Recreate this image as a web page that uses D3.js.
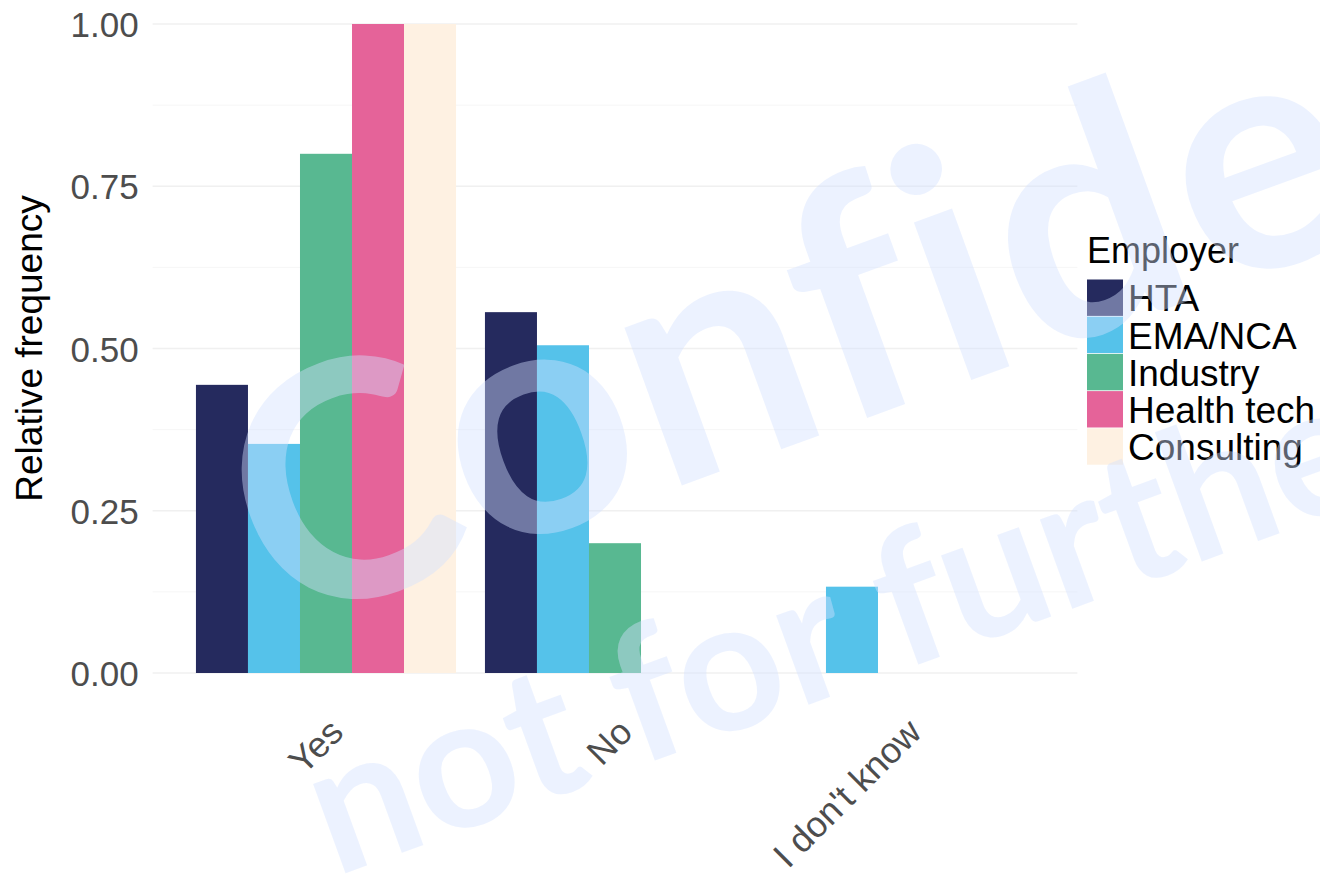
<!DOCTYPE html>
<html>
<head>
<meta charset="utf-8">
<script src="https://d3js.org/d3.v7.min.js"></script>
<style>
  body { margin: 0; background: #fff; }
  svg { display: block; }
</style>
</head>
<body>
<div id="chart"></div>
<script>
// answers on the x axis
const answers = ["Yes", "No", "I don't know"];
// employer groups (legend order)
const employers = ["HTA", "EMA/NCA", "Industry", "Health tech", "Consulting"];
const employerColors = ["#252A5E", "#55C2EA", "#58B891", "#E56399", "#FEF1E2"];
// relative frequency per employer, one value per answer (null = no bar)
const htaValues = [0.444, 0.556, null];
const emaValues = [0.353, 0.505, 0.133];
const industryValues = [0.8, 0.2, null];
const healthTechValues = [1.0, null, null];
const consultingValues = [1.0, null, null];
const yTicks = [0, 0.25, 0.5, 0.75, 1.0];
const yMinorTicks = [0.125, 0.375, 0.625, 0.875];
const watermarkLines = ["Confidential", "not for further distribution"];

const seriesValues = [htaValues, emaValues, industryValues, healthTechValues, consultingValues];

const width = 1320, height = 877;
const plot = { left: 152.6, right: 1077.4, top: 24, bottom: 673 };

const svg = d3.select("#chart").append("svg")
    .attr("width", width)
    .attr("height", height);

const x = d3.scaleBand()
    .domain(answers)
    .range([plot.left, plot.right])
    .paddingInner(0.1)
    .paddingOuter(0.15);

const xInner = d3.scaleBand()
    .domain(employers)
    .range([0, x.bandwidth()]);

const y = d3.scaleLinear()
    .domain([0, 1])
    .range([plot.bottom, plot.top]);

const color = d3.scaleOrdinal().domain(employers).range(employerColors);

// grid lines
svg.append("g").selectAll("line.minor")
    .data(yMinorTicks)
    .join("line")
    .attr("x1", plot.left).attr("x2", plot.right)
    .attr("y1", d => y(d)).attr("y2", d => y(d))
    .attr("stroke", "#F6F6F6")
    .attr("stroke-width", 1);

svg.append("g").selectAll("line.major")
    .data(yTicks)
    .join("line")
    .attr("x1", plot.left).attr("x2", plot.right)
    .attr("y1", d => y(d)).attr("y2", d => y(d))
    .attr("stroke", "#F0F0F0")
    .attr("stroke-width", 1.4);

// bars
const barData = [];
answers.forEach((a, i) => {
    employers.forEach((e, j) => {
        const v = seriesValues[j][i];
        if (v != null) barData.push({ answer: a, employer: e, value: v });
    });
});

svg.append("g").selectAll("rect")
    .data(barData)
    .join("rect")
    .attr("x", d => x(d.answer) + xInner(d.employer))
    .attr("width", xInner.bandwidth())
    .attr("y", d => y(d.value))
    .attr("height", d => y(0) - y(d.value))
    .attr("fill", d => color(d.employer));

// y axis labels
const yAxis = svg.append("g")
    .attr("transform", `translate(${plot.left - 14},0)`)
    .call(d3.axisLeft(y).tickValues(yTicks).tickFormat(d3.format(".2f")).tickSize(0));
yAxis.select(".domain").remove();
yAxis.selectAll("text")
    .attr("x", 0)
    .attr("dy", "0.36em")
    .style("font-family", "'Liberation Sans', Arial, sans-serif")
    .style("font-size", "35px")
    .style("fill", "#4D4D4D");

// x axis labels (rotated)
const xAxis = svg.append("g")
    .attr("transform", `translate(0,${plot.bottom + 43})`)
    .call(d3.axisBottom(x).tickSize(0));
xAxis.select(".domain").remove();
xAxis.selectAll("text")
    .attr("y", 0)
    .attr("dy", "0.72em")
    .attr("transform", "translate(1,0) rotate(-45)")
    .style("text-anchor", "end")
    .style("font-family", "'Liberation Sans', Arial, sans-serif")
    .style("font-size", "36px")
    .style("fill", "#4D4D4D");

// y title
svg.append("text")
    .attr("transform", `translate(42,${(plot.top + plot.bottom) / 2}) rotate(-90)`)
    .attr("text-anchor", "middle")
    .style("font-family", "'Liberation Sans', Arial, sans-serif")
    .style("font-size", "37px")
    .style("fill", "#000")
    .text("Relative frequency");

// legend
const legend = svg.append("g").attr("transform", "translate(1087,0)");
legend.append("text")
    .attr("x", 0)
    .attr("y", 263)
    .style("font-family", "'Liberation Sans', Arial, sans-serif")
    .style("font-size", "36px")
    .style("fill", "#000")
    .text("Employer");

const keyH = 37.2, keyTop = 279.5;
const item = legend.selectAll("g.item")
    .data(employers)
    .join("g")
    .attr("transform", (d, i) => `translate(0,${keyTop + i * keyH})`);
item.append("rect")
    .attr("width", 36)
    .attr("height", keyH - 0.8)
    .attr("fill", d => color(d));
item.append("text")
    .attr("x", 41)
    .attr("y", keyH / 2)
    .attr("dy", "0.36em")
    .style("font-family", "'Liberation Sans', Arial, sans-serif")
    .style("font-size", "37px")
    .style("fill", "#000")
    .text(d => d);

// watermark on top of everything
const wm = svg.append("g")
    .style("font-family", "Lato, 'Open Sans', sans-serif")
    .style("font-weight", 700)
    .style("fill", "rgb(210,224,255)")
    .style("fill-opacity", 0.43)
    .style("pointer-events", "none");

const wmAnchors = [[279, 632], [335, 877]];
const wmSizes = [327, 185];
wm.selectAll("text")
    .data(watermarkLines)
    .join("text")
    .attr("transform", (d, i) => `translate(${wmAnchors[i][0]},${wmAnchors[i][1]}) rotate(-20)`)
    .style("font-size", (d, i) => wmSizes[i] + "px")
    .style("letter-spacing", (d, i) => i === 0 ? "4px" : "0px")
    .text(d => d);
</script>
</body>
</html>
